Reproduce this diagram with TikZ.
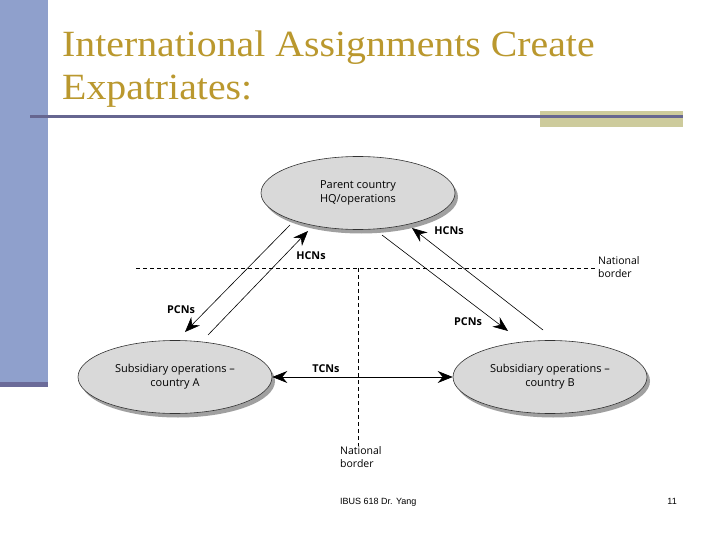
\documentclass[tikz,border=0pt]{standalone}
\usepackage{fontspec}
\setmainfont{Liberation Serif}
\newfontfamily\diag{Open Sans}
\newfontfamily\foot{Liberation Sans}
\usetikzlibrary{arrows.meta,shapes.geometric}
\definecolor{barblue}{HTML}{8FA0CC}
\definecolor{bardark}{HTML}{6B6B99}
\definecolor{rulecol}{HTML}{666690}
\definecolor{olive}{HTML}{CDCB9C}
\definecolor{titlegold}{HTML}{BA982E}
\definecolor{ellfill}{HTML}{D9D9D9}
\definecolor{shadowgray}{HTML}{A0A0A0}
\begin{document}
\begin{tikzpicture}[x=1pt,y=-1pt,
  ell/.style={ellipse, minimum width=194pt, minimum height=73pt, fill=ellfill, draw=black!80, line width=0.6pt, inner sep=0pt, align=center, font=\diag\fontsize{11}{14}\selectfont},
  shad/.style={ellipse, minimum width=194pt, minimum height=73pt, fill=shadowgray, inner sep=0pt},
  lbl/.style={font=\diag\bfseries\fontsize{10.8}{12}\selectfont, inner sep=0pt},
  note/.style={font=\diag\fontsize{10.5}{13}\selectfont, align=left, inner sep=0pt, anchor=north west},
  flow/.style={line width=0.6pt, -{Stealth[length=15pt,width=12pt,inset=5pt]}},
  border/.style={dashed, line width=0.5pt, dash pattern=on 4pt off 3pt}]
\useasboundingbox (0,0) rectangle (720,540);
\fill[white] (0,0) rectangle (720,540);
% side bar
\fill[barblue] (0,0) rectangle (48,382);
\fill[bardark] (0,382) rectangle (48,387);
% rule
\fill[olive] (540,111) rectangle (683,127);
\draw[rulecol, line width=3pt] (30,117) -- (683,117);
% title
\node[anchor=base west, inner sep=0pt, text=titlegold, font=\fontsize{37}{43}\selectfont] (t1) at (62,57) {\scalebox{1.075}[1]{International Assignments Create}};
\node[anchor=base west, inner sep=0pt, text=titlegold, font=\fontsize{37}{43}\selectfont] (t2) at (62,100) {\scalebox{1.075}[1]{Expatriates:}};
% borders
\coordinate (hb1) at (136,268);
\coordinate (hb2) at (597,268);
\coordinate (vb1) at (358,268);
\coordinate (vb2) at (358,446);
\draw[border] (hb1) -- (hb2);
\draw[border] (vb1) -- (vb2);
\node[note] (nb1) at (598,256) {National\\border};
\node[note] (nb2) at (340,446) {National\\border};
% shadows
\node[shad] at (361,197) {};
\node[shad] at (178,381) {};
\node[shad] at (553,381) {};
% ellipses
\node[ell] (hq) at (358,193) {Parent country\\HQ/operations};
\node[ell] (sa) at (175,377) {Subsidiary operations –\\country A};
\node[ell] (sb) at (550,377) {Subsidiary operations –\\country B};
% arrows
\coordinate (a1s) at (290,225);
\coordinate (a1e) at (185,332);
\coordinate (a2s) at (208,335);
\coordinate (a2e) at (308,231);
\coordinate (a3s) at (382,235);
\coordinate (a3e) at (508,331);
\coordinate (a4s) at (543,330);
\coordinate (a4e) at (412,228);
\draw[flow] (a1s) -- (a1e);
\draw[flow] (a2s) -- (a2e);
\draw[flow] (a3s) -- (a3e);
\draw[flow] (a4s) -- (a4e);
\draw[line width=0.6pt, {Stealth[length=15pt,width=12pt,inset=5pt]}-{Stealth[length=15pt,width=12pt,inset=5pt]}] (sa.east) -- (sb.west);
% labels
\node[lbl] (l1) at (311,256) {HCNs};
\node[lbl] (l2) at (181,310) {PCNs};
\node[lbl] (l3) at (449,231) {HCNs};
\node[lbl] (l4) at (468,322) {PCNs};
\node[lbl] (l5) at (326,369) {TCNs};
% footer
\node[anchor=base west, inner sep=0pt, font=\foot\fontsize{9}{11}\selectfont] (f1) at (340,504) {IBUS 618 Dr. Yang};
\node[anchor=base east, inner sep=0pt, font=\foot\fontsize{9}{11}\selectfont] (f2) at (677,504) {11};
\end{tikzpicture}
\end{document}
